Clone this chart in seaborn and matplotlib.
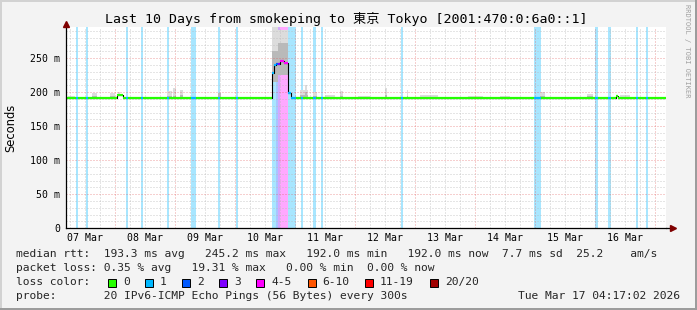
import numpy as np
import pandas as pd
import matplotlib
matplotlib.use('Agg')
import matplotlib.pyplot as plt
import matplotlib.dates as mdates
from matplotlib.ticker import MultipleLocator, FuncFormatter, NullFormatter
from matplotlib.patches import Rectangle
import seaborn as sns

# ---------------- data ----------------
T_START = pd.Timestamp('2026-03-07 04:17:02')
T_END = pd.Timestamp('2026-03-17 04:17:02')
BASE_MEDIAN = 192.0  # ms, median rtt where nothing else is listed

loss_labels = ['0', '1', '2', '3', '4-5', '6-10', '11-19', '20/20']
loss_colors = ['#26ff00', '#00b8ff', '#0059ff', '#7e00ff', '#ff00ff', '#ff5500', '#ff0000', '#a10000']
loss_upper = [0, 1, 2, 3, 5, 10, 19, 20]

# median / loss segments (start, end, median ms, lost pings of 20)
seg_start = ['2026-03-07 08:15', '2026-03-07 12:15', '2026-03-08 00:41', '2026-03-08 04:15',
             '2026-03-08 10:15', '2026-03-08 20:30', '2026-03-09 06:15', '2026-03-09 17:10',
             '2026-03-10 00:20', '2026-03-10 14:45', '2026-03-10 15:35', '2026-03-10 16:20',
             '2026-03-10 17:05', '2026-03-10 17:55', '2026-03-10 19:30', '2026-03-10 21:05',
             '2026-03-10 22:15', '2026-03-11 02:25', '2026-03-11 07:10', '2026-03-11 10:20',
             '2026-03-12 18:20', '2026-03-14 23:40', '2026-03-15 23:50', '2026-03-16 05:05',
             '2026-03-16 08:10', '2026-03-16 16:15', '2026-03-16 20:15']
seg_end = ['2026-03-07 09:05', '2026-03-07 13:05', '2026-03-08 03:05', '2026-03-08 05:05',
           '2026-03-08 11:05', '2026-03-08 21:20', '2026-03-09 08:20', '2026-03-09 17:58',
           '2026-03-10 01:10', '2026-03-10 15:35', '2026-03-10 16:20', '2026-03-10 17:05',
           '2026-03-10 17:55', '2026-03-10 19:30', '2026-03-10 21:05', '2026-03-10 22:15',
           '2026-03-11 00:15', '2026-03-11 03:15', '2026-03-11 08:20', '2026-03-11 11:10',
           '2026-03-12 19:10', '2026-03-15 02:25', '2026-03-16 01:00', '2026-03-16 06:15',
           '2026-03-16 08:58', '2026-03-16 17:05', '2026-03-16 21:05']
seg_median = [192, 192, 195.5, 192, 192, 192, 192, 192, 192, 229, 240.5, 241, 242, 245.5, 243,
              199, 192, 192, 192, 192, 192, 192, 192, 192, 194, 192, 192]
seg_loss = [1, 1, 0, 1, 1, 1, 1, 1, 1, 1, 1, 2, 3, 5, 4, 1, 1, 1, 1, 1, 1, 1, 1, 1, 0, 1, 1]

# smoke (spread of the 20 pings): start, end, low, inner top, outer top (ms)
smoke_start = ['2026-03-07 05:00', '2026-03-07 14:40', '2026-03-07 21:50', '2026-03-08 01:05',
               '2026-03-08 20:40', '2026-03-08 23:05', '2026-03-09 01:55', '2026-03-09 17:05',
               '2026-03-10 14:45', '2026-03-10 17:05', '2026-03-11 01:55', '2026-03-11 03:50',
               '2026-03-11 07:05', '2026-03-11 12:00', '2026-03-11 17:55', '2026-03-12 01:00',
               '2026-03-12 11:55', '2026-03-12 20:40', '2026-03-13 02:00', '2026-03-13 21:00',
               '2026-03-14 10:00', '2026-03-15 01:55', '2026-03-15 20:40', '2026-03-16 10:00']
smoke_end = ['2026-03-07 08:00', '2026-03-07 16:40', '2026-03-08 00:00', '2026-03-08 01:55',
             '2026-03-08 22:40', '2026-03-09 00:15', '2026-03-09 03:05', '2026-03-09 18:15',
             '2026-03-10 17:05', '2026-03-10 21:05', '2026-03-11 05:05', '2026-03-11 04:40',
             '2026-03-11 08:40', '2026-03-11 16:00', '2026-03-11 19:05', '2026-03-12 06:00',
             '2026-03-12 12:40', '2026-03-12 21:05', '2026-03-13 09:00', '2026-03-14 03:00',
             '2026-03-14 14:00', '2026-03-15 03:55', '2026-03-15 23:05', '2026-03-16 14:00']
smoke_low = [192, 192, 192, 195, 192, 192, 192, 192, 215, 225, 192, 192,
             192, 192, 192, 192, 192, 192, 192, 192, 192, 192, 192, 192]
smoke_mid = [193, 194, 195, 198, 195, 195, 196, 199, 260, 272, 196, 200,
             195, 193, 195, 193, 196, 195, 193, 193, 193, 195, 194, 193]
smoke_high = [195, 199, 199, 201, 202, 207, 203, 199, 296, 292, 203, 211,
              201, 195.5, 202, 195, 206, 203, 195.5, 195, 195, 201, 197, 196]

title_text = 'Last 10 Days from smokeping to 東京 Tokyo [2001:470:0:6a0::1]'
legend_rows = [
    'median rtt:  193.3 ms avg   245.2 ms max   192.0 ms min   192.0 ms now  7.7 ms sd  25.2    am/s',
    'packet loss: 0.35 % avg   19.31 % max   0.00 % min  0.00 % now',
]
probe_text = 'probe:       20 IPv6-ICMP Echo Pings (56 Bytes) every 300s'
stamp_text = 'Tue Mar 17 04:17:02 2026'

# ---------------- build timeline ----------------
def loss_index(n):
    for i, u in enumerate(loss_upper):
        if n <= u:
            return i
    return len(loss_upper) - 1

segs = sorted(zip(pd.to_datetime(seg_start), pd.to_datetime(seg_end), seg_median, seg_loss))
intervals = []
cur = T_START
for a, b, m, l in segs:
    if a > cur:
        intervals.append((cur, a, BASE_MEDIAN, 0))
    intervals.append((a, b, m, l))
    cur = b
if cur < T_END:
    intervals.append((cur, T_END, BASE_MEDIAN, 0))

steps = pd.DataFrame({'time': [iv[0] for iv in intervals] + [T_END],
                      'median': [iv[2] for iv in intervals] + [intervals[-1][2]]})

# ---------------- figure ----------------
sns.set_theme(style='white')
plt.rcParams['font.family'] = ['DejaVu Sans Mono', 'Noto Sans CJK JP']

W, H = 697, 310
fig = plt.figure(figsize=(W / 100, H / 100), dpi=100, facecolor='#f3f3f3')
ax_l, ax_r, ax_t, ax_b = 66, 666, 27, 228.3
ax = fig.add_axes([ax_l / W, 1 - ax_b / H, (ax_r - ax_l) / W, (ax_b - ax_t) / H])
ax.set_facecolor('white')

sns.lineplot(data=steps, x='time', y='median', drawstyle='steps-post', color='black',
             lw=0.8, estimator=None, sort=False, ax=ax, zorder=3)

d2n = mdates.date2num
# loss background bands and coloured median
for a, b, m, l in intervals:
    ci = loss_index(l)
    if l > 0:
        ax.axvspan(d2n(a), d2n(b), color=loss_colors[ci], alpha=0.34, lw=0, zorder=0.2)
    ax.hlines(m, d2n(a), d2n(b), colors=loss_colors[ci], lw=1.6, zorder=4)

# smoke
for s, e, lo, mi, hi in zip(pd.to_datetime(smoke_start), pd.to_datetime(smoke_end),
                            smoke_low, smoke_mid, smoke_high):
    ax.fill_between([d2n(s), d2n(e)], [lo, lo], [hi, hi], color='#dcdcdc', lw=0, zorder=0.3)
    ax.fill_between([d2n(s), d2n(e)], [lo, lo], [mi, mi], color='#b9b9b9', lw=0, zorder=0.35)

ax.set_xlim(d2n(T_START), d2n(T_END))
ax.set_ylim(0, 296)
ax.set_xlabel('')
ax.set_ylabel('')

# x axis: red grid at midnight, grey every 6 h, labels at noon
ax.xaxis.set_major_locator(mdates.DayLocator())
ax.xaxis.set_minor_locator(mdates.HourLocator(byhour=[6, 12, 18]))
ax.xaxis.set_major_formatter(NullFormatter())
ax.xaxis.set_minor_formatter(FuncFormatter(
    lambda x, p: mdates.num2date(x).strftime('%d %b') if mdates.num2date(x).hour == 12 else ''))
ax.yaxis.set_major_locator(MultipleLocator(50))
ax.yaxis.set_minor_locator(MultipleLocator(10))
ax.yaxis.set_major_formatter(FuncFormatter(lambda v, p: '0' if abs(v) < 1e-9 else f'{v:.0f} m'))

ax.set_axisbelow(True)
ax.grid(which='major', color='#e05050', alpha=0.55, lw=0.72, ls=(0, (1, 2)))
ax.grid(which='minor', color='#bababa', alpha=0.75, lw=0.72, ls=(0, (1, 2)))

ax.tick_params(axis='x', which='major', length=2.2, width=0.72, color='#e08080', labelbottom=False)
ax.tick_params(axis='x', which='minor', length=0, pad=3.2, labelsize=7.1, labelcolor='black')
ax.tick_params(axis='y', which='both', length=0, pad=4.3, labelsize=7.1, labelcolor='black')
for lab in ax.get_xticklabels(minor=True) + ax.get_yticklabels():
    lab.set_family(['DejaVu Sans Mono'])

for sp in ['top', 'right']:
    ax.spines[sp].set_visible(False)
for sp in ['left', 'bottom']:
    ax.spines[sp].set_color('black')
    ax.spines[sp].set_linewidth(0.9)
    ax.spines[sp].set_zorder(5)

# axis arrows
ax.plot([1.0, 1.009], [0, 0], transform=ax.transAxes, color='black', lw=0.9, clip_on=False, zorder=5)
ax.plot([1.011], [0], transform=ax.transAxes, marker='>', ms=4, color='#7f0000', mec='#7f0000',
        clip_on=False, zorder=6)
ax.plot([0, 0], [1.0, 1.012], transform=ax.transAxes, color='black', lw=0.9, clip_on=False, zorder=5)
ax.plot([0], [1.014], transform=ax.transAxes, marker='^', ms=4, color='#7f0000', mec='#7f0000',
        clip_on=False, zorder=6)

def ftext(x, y, s, **kw):
    return fig.text(x / W, 1 - y / H, s, **kw)

ftext(346.5, 19, title_text, ha='center', va='center', fontsize=9.5,
      family=['DejaVu Sans Mono', 'Noto Sans CJK JP'], color='black')
ftext(11, 127.5, 'Seconds', rotation=90, ha='center', va='center', fontsize=8.3,
      family=['DejaVu Sans'], color='black')
ftext(687.5, 51, 'RRDTOOL / TOBI OETIKER', rotation=270, ha='center', va='center', fontsize=5,
      family=['DejaVu Sans Mono'], color='#a0a0a0')

LX = 16.4
ftext(LX, 254.3, legend_rows[0], ha='left', va='center', fontsize=8.1, family=['DejaVu Sans Mono'])
ftext(LX, 268.3, legend_rows[1], ha='left', va='center', fontsize=8.1, family=['DejaVu Sans Mono'])
ftext(LX, 282.3, 'loss color:', ha='left', va='center', fontsize=8.1, family=['DejaVu Sans Mono'])
box_x = [108, 145, 182, 219, 256, 307.5, 365, 430]
for bx, col, lab in zip(box_x, loss_colors, loss_labels):
    fig.patches.append(Rectangle((bx / W, 1 - 286.5 / H), 8 / W, 8 / H, transform=fig.transFigure,
                                 facecolor=col, edgecolor='black', lw=0.7))
    ftext(bx + 15, 282.3, lab, ha='left', va='center', fontsize=8.1, family=['DejaVu Sans Mono'])
ftext(LX, 296, probe_text, ha='left', va='center', fontsize=8.1, family=['DejaVu Sans Mono'])
ftext(680, 296, stamp_text, ha='right', va='center', fontsize=8.1, family=['DejaVu Sans Mono'])

# 3-D style frame
frame = [((0, 0), 2, H, '#d2d2d2'), ((0, H - 2), W, 2, '#d2d2d2'),
         ((W - 2, 0), 2, H, '#9c9c9c'), ((0, 0), W, 2, '#9c9c9c')]
for (fx, fy), fw, fh, fc in frame:
    fig.patches.append(Rectangle((fx / W, fy / H), fw / W, fh / H, transform=fig.transFigure,
                                 facecolor=fc, edgecolor='none'))

fig.savefig('out.png', dpi=100, facecolor=fig.get_facecolor())
